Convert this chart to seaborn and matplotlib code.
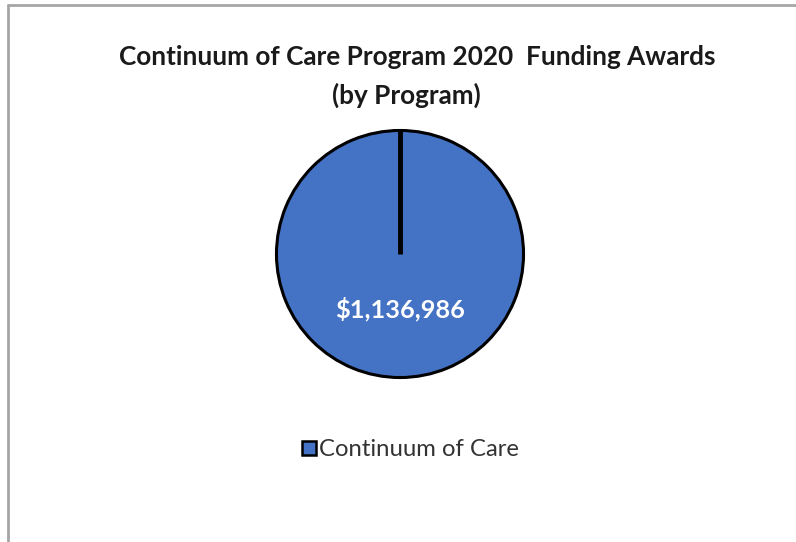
import matplotlib
matplotlib.use("Agg")
import matplotlib.pyplot as plt
import seaborn as sns
import numpy as np
from matplotlib.lines import Line2D

# data
programs = ["Continuum of Care"]
awards = [1136986]
colors = ["#4472C4"]
title_lines = ["Continuum of Care Program 2020  Funding Awards", "(by Program)"]

sns.set_style("white")
plt.rcParams["font.family"] = ["Lato", "DejaVu Sans"]

W, H = 796, 542
fig = plt.figure(figsize=(W / 100, H / 100), dpi=100)
fig.patch.set_facecolor("white")

# pie axes: centre (400, 254) px, radius ~126 px
ax = fig.add_axes([274 / W, 162 / H, 252 / W, 252 / H])
total = sum(awards)
wedges, texts, autotexts = ax.pie(
    awards, colors=colors, startangle=90, counterclock=False,
    radius=1.0, pctdistance=0.45,
    autopct=lambda p: "${:,.0f}".format(p * total / 100),
    wedgeprops=dict(edgecolor="black", linewidth=2.2),
    textprops=dict(color="white", fontsize=18.3, fontweight="bold"),
)
# a single full slice: matplotlib skips the radial edge, so draw it from the wedge itself
for w in wedges:
    cx, cy = w.center
    t = np.deg2rad(w.theta1)
    ax.plot([cx, cx + w.r * np.cos(t)], [cy, cy + w.r * np.sin(t)],
            color="black", lw=3.5, solid_capstyle="butt")
ax.set_xlim(-1.02, 1.02)
ax.set_ylim(-1.02, 1.02)
ax.set_aspect("equal")
ax.axis("off")

fig.text(417 / W, 1 - 57 / H, title_lines[0], ha="center", va="center",
         fontsize=18.8, fontweight="bold", color="#1a1a1a")
fig.text(406 / W, 1 - 95 / H, title_lines[1], ha="center", va="center",
         fontsize=18.8, fontweight="bold", color="#1a1a1a")

handles = [Line2D([], [], marker="s", linestyle="none", markersize=10.5,
                  markerfacecolor=colors[0], markeredgecolor="black",
                  markeredgewidth=1.8)]
fig.legend(handles, programs, loc="center", bbox_to_anchor=(407 / W, 1 - 450 / H),
           frameon=False, fontsize=17.2, handletextpad=-0.2, handlelength=1.2,
           labelcolor="#333333")

# chart frame (top and left edges visible in the reference)
fig.add_artist(Line2D([8 / W, 1], [1 - 5 / H, 1 - 5 / H], color="#a6a6a6", lw=2))
fig.add_artist(Line2D([8 / W, 8 / W], [0, 1 - 5 / H], color="#a6a6a6", lw=2))

fig.savefig("out.png", dpi=100, facecolor="white")
